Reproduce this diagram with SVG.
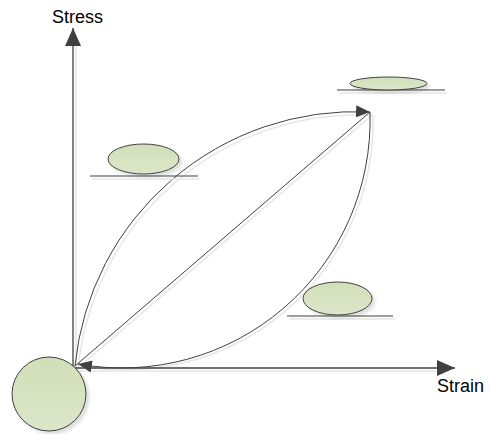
<svg xmlns="http://www.w3.org/2000/svg" width="489" height="434" viewBox="0 0 489 434">
<style>
.ax{stroke:#404040;stroke-width:1.3;fill:none}
.cv{stroke:#404040;stroke-width:1;fill:none}
.sh{stroke:#e6e6e6;stroke-width:1.5;fill:none}
.nd{fill:url(#g);stroke:#404040;stroke-width:1}
.base{stroke:#404040;stroke-width:1.2}
.lbl{font-family:"Liberation Sans",Arial,sans-serif;font-size:18px;fill:#000}
</style>
<defs>
<linearGradient id="g" x1="0" y1="0" x2="0" y2="1">
<stop offset="0" stop-color="#d1dfb8"/>
<stop offset="1" stop-color="#dce6ca"/>
</linearGradient>
<filter id="ds" x="-20%" y="-20%" width="150%" height="160%">
<feDropShadow dx="3" dy="3" stdDeviation="1.5" flood-color="#000" flood-opacity="0.12"/>
</filter>
<marker id="ah" viewBox="0 0 14 12" refX="14" refY="6" markerWidth="14" markerHeight="12" markerUnits="userSpaceOnUse" orient="auto">
<path d="M0,0 L14,6 L0,12 Z" fill="#404040"/>
</marker>
<marker id="ahb" viewBox="0 0 18 16" refX="18" refY="8" markerWidth="18" markerHeight="16" markerUnits="userSpaceOnUse" orient="auto">
<path d="M0,0 L18,8 L0,16 Z" fill="#404040"/>
</marker>
</defs>
<g id="connectors">
<path class="sh" d="M76,368 L76,46"/>
<path class="sh" d="M75,371 L436,371"/>
<path class="sh" d="M78,369 A282 282 0 0 1 372,115"/>
<path class="sh" d="M78,368 L372,115"/>
<path class="sh" d="M373,115 A248 248 0 0 1 82,366"/>
<path class="ax" d="M73,368 L73,28" marker-end="url(#ahb)"/>
<path class="ax" d="M73,368 L455,368" marker-end="url(#ahb)"/>
<path class="cv" d="M75,366 A282 282 0 0 1 370,112" marker-end="url(#ah)"/>
<path class="cv" d="M75,366 L370,112"/>
<path class="cv" d="M370,112 A248 248 0 0 1 78,364" marker-end="url(#ah)"/>
</g>
<g id="origin">
<circle class="nd" cx="49" cy="394" r="37" filter="url(#ds)"/>
</g>
<g id="node-left">
<line class="sh" x1="92" y1="179" x2="200" y2="179"/>
<line class="base" x1="90" y1="176" x2="198" y2="176"/>
<ellipse class="nd" cx="143.5" cy="159" rx="35.5" ry="15" filter="url(#ds)"/>
</g>
<g id="node-top">
<line class="sh" x1="339" y1="93" x2="447" y2="93"/>
<line class="base" x1="337" y1="90" x2="445" y2="90"/>
<ellipse class="nd" cx="388.5" cy="83.5" rx="38.5" ry="6.5" filter="url(#ds)"/>
</g>
<g id="node-right">
<line class="sh" x1="289" y1="319" x2="395" y2="319"/>
<line class="base" x1="287" y1="316" x2="393" y2="316"/>
<ellipse class="nd" cx="337.5" cy="298.5" rx="34.5" ry="16.5" filter="url(#ds)"/>
</g>
<text class="lbl" x="52" y="23">Stress</text>
<text class="lbl" x="437" y="392">Strain</text>
</svg>
